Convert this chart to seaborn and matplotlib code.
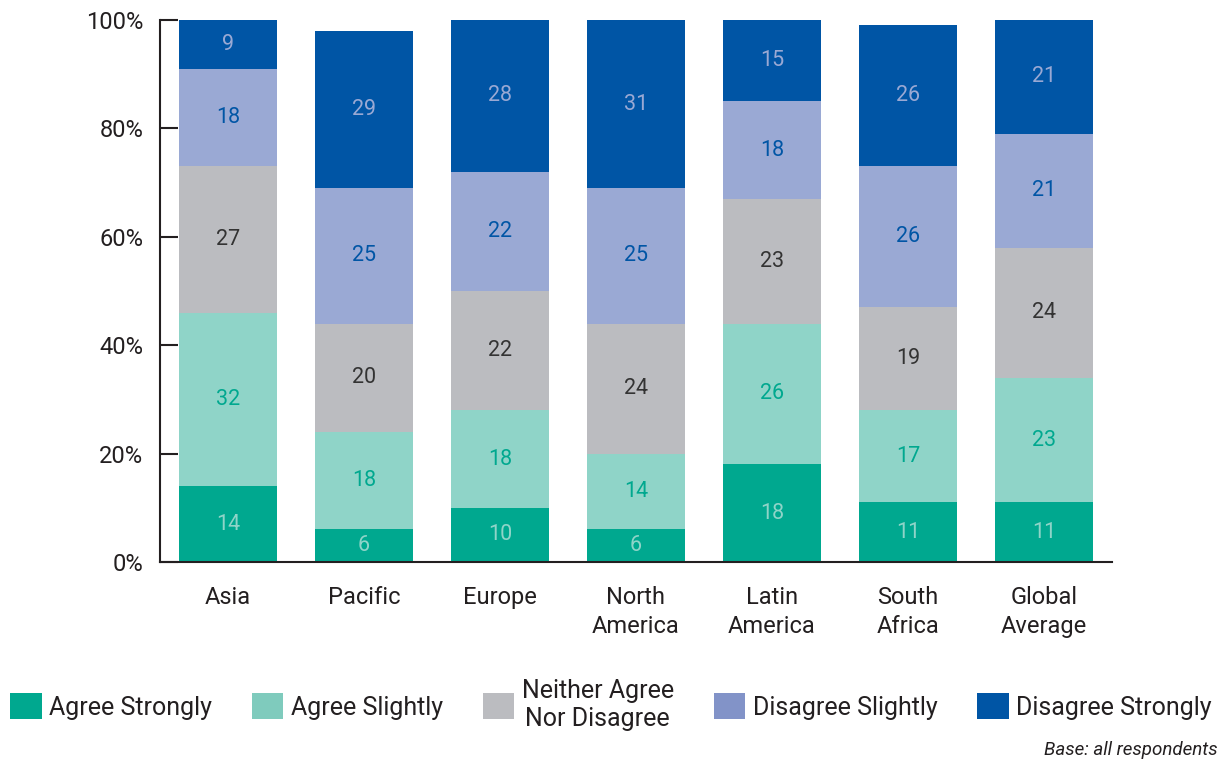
import seaborn as sns
import matplotlib.pyplot as plt
import numpy as np
from matplotlib.patches import Patch

# 데이터
regions = ["Asia", "Pacific", "Europe", "North\nAmerica", "Latin\nAmerica", "South\nAfrica", "Global\nAverage"]
responses = ["Agree Strongly", "Agree Slightly", "Neither Agree\nNor Disagree",
             "Disagree Slightly", "Disagree Strongly"]
agree_strongly = [14, 6, 10, 6, 18, 11, 11]
agree_slightly = [32, 18, 18, 14, 26, 17, 23]
neither = [27, 20, 22, 24, 23, 19, 24]
disagree_slightly = [18, 25, 22, 25, 18, 26, 21]
disagree_strongly = [9, 29, 28, 31, 15, 26, 21]

bar_colors = ["#00a88f", "#8fd4c8", "#bbbcc0", "#9aa9d4", "#0055a5"]
legend_colors = ["#00a88f", "#7fcbbd", "#bbbcc0", "#8293c8", "#0055a5"]
label_colors = ["#8fd4c8", "#00a88f", "#333333", "#0055a5", "#9aa9d4"]

sns.set_style("white")
plt.rcParams["font.family"] = ["Roboto", "DejaVu Sans"]

series = np.array([agree_strongly, agree_slightly, neither, disagree_slightly, disagree_strongly])
cum = series.cumsum(axis=0)

fig = plt.figure(figsize=(12.22, 7.63), dpi=100)
ax = fig.add_axes([160 / 1222, 201 / 763, 952 / 1222, 542 / 763])

# 누적 막대: 위쪽 층부터 겹쳐 그리기
for i in reversed(range(len(responses))):
    sns.barplot(x=regions, y=cum[i], color=bar_colors[i], width=0.72,
                saturation=1, linewidth=0, edgecolor="none", ax=ax, zorder=2)

# 값 라벨
for i in range(len(responses)):
    for j in range(len(regions)):
        ax.text(j, cum[i][j] - series[i][j] / 2, str(series[i][j]),
                ha="center", va="center", fontsize=15.5, color=label_colors[i], zorder=3)

ax.set_xlim(-0.5, len(regions) - 0.5)
ax.set_ylim(0, 100)
ax.set_yticks(range(0, 101, 20))
ax.set_yticklabels([f"{v}%" for v in range(0, 101, 20)], fontsize=17, color="#231f20")
ax.set_xticks(range(len(regions)))
ax.set_xticklabels(regions, fontsize=17, color="#231f20", linespacing=1.35)
ax.set_xticks(np.arange(-0.5, len(regions)), minor=True)
ax.tick_params(axis="x", which="major", length=0, pad=17)
ax.tick_params(axis="x", which="minor", direction="in", length=10, width=1.5, color="#231f20")
ax.tick_params(axis="y", direction="in", length=13, width=1.5, color="#231f20", pad=12, left=True)
ax.set_xlabel("")
ax.set_ylabel("")

for side in ["top", "right"]:
    ax.spines[side].set_visible(False)
for side in ["left", "bottom"]:
    ax.spines[side].set_linewidth(1.5)
    ax.spines[side].set_color("#231f20")

# 범례
handles = [Patch(facecolor=c, edgecolor="none") for c in legend_colors]
leg = fig.legend(handles, responses, loc="center", bbox_to_anchor=(0.5, 1 - 705 / 763),
                 ncol=5, frameon=False, fontsize=18, handlelength=1.25, handleheight=1.25,
                 handletextpad=0.3, columnspacing=1.6)
for t in leg.get_texts():
    t.set_color("#231f20")
leg.get_texts()[2].set_multialignment("center")

fig.text(1218 / 1222, 1 - 750 / 763, "Base: all respondents", ha="right", va="center",
         fontsize=13.5, style="italic", color="#231f20")

fig.savefig("out.png", dpi=100)
